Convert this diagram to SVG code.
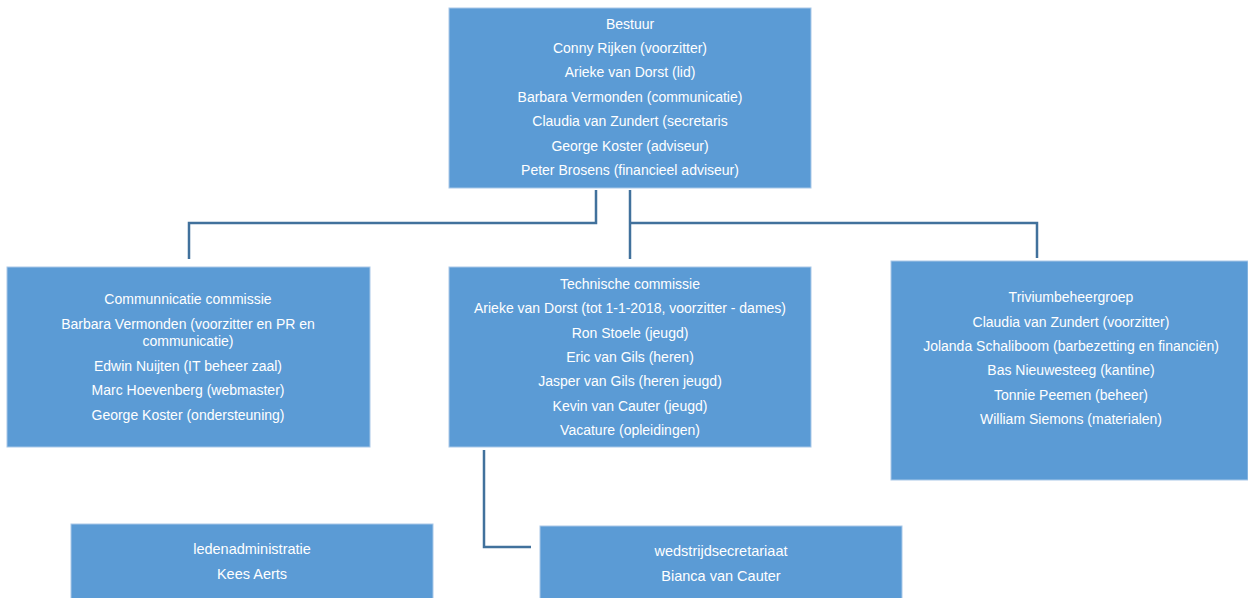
<svg xmlns="http://www.w3.org/2000/svg" width="1248" height="598" viewBox="0 0 1248 598">
<style>
.box{fill:#5b9bd5;stroke:#a9c8e8;stroke-width:1}
.t{font-family:"Liberation Sans",Arial,sans-serif;font-size:14px;fill:#ffffff;text-anchor:middle}
.n{font-size:14.5px}
.c{fill:none;stroke:#41719c;stroke-width:2.5}
</style>
<rect width="1248" height="598" fill="#ffffff"/>
<g id="connectors">
<path class="c" d="M596,190 V223 H189 V259"/>
<path class="c" d="M630,190 V259"/>
<path class="c" d="M630,223 H1037 V258"/>
<path class="c" d="M484,450 V547 H531"/>
</g>
<g id="bestuur">
<rect class="box" x="449" y="8" width="362" height="180"/>
<text class="t" x="630" y="29">Bestuur</text>
<text class="t" x="630" y="53">Conny Rijken (voorzitter)</text>
<text class="t" x="630" y="77">Arieke van Dorst (lid)</text>
<text class="t" x="630" y="102">Barbara Vermonden (communicatie)</text>
<text class="t" x="630" y="126">Claudia van Zundert (secretaris</text>
<text class="t" x="630" y="151">George Koster (adviseur)</text>
<text class="t" x="630" y="175">Peter Brosens (financieel adviseur)</text>
</g>
<g id="communicatie">
<rect class="box" x="7" y="267" width="363" height="180"/>
<text class="t" x="188" y="304">Communnicatie commissie</text>
<text class="t" x="188" y="329">Barbara Vermonden (voorzitter en PR en</text>
<text class="t" x="188" y="346">communicatie)</text>
<text class="t" x="188" y="371">Edwin Nuijten (IT beheer zaal)</text>
<text class="t" x="188" y="395">Marc Hoevenberg (webmaster)</text>
<text class="t" x="188" y="420">George Koster (ondersteuning)</text>
</g>
<g id="technische">
<rect class="box" x="449" y="267" width="362" height="180"/>
<text class="t" x="630" y="289">Technische commissie</text>
<text class="t" x="630" y="313">Arieke van Dorst (tot 1-1-2018, voorzitter - dames)</text>
<text class="t" x="630" y="338">Ron Stoele (jeugd)</text>
<text class="t" x="630" y="362">Eric van Gils (heren)</text>
<text class="t" x="630" y="386">Jasper van Gils (heren jeugd)</text>
<text class="t" x="630" y="411">Kevin van Cauter (jeugd)</text>
<text class="t" x="630" y="435">Vacature (opleidingen)</text>
</g>
<g id="trivium">
<rect class="box" x="891" y="261" width="357" height="219"/>
<text class="t" x="1071" y="302">Triviumbeheergroep</text>
<text class="t" x="1071" y="327">Claudia van Zundert (voorzitter)</text>
<text class="t" x="1071" y="351">Jolanda Schaliboom (barbezetting en financiën)</text>
<text class="t" x="1071" y="375">Bas Nieuwesteeg (kantine)</text>
<text class="t" x="1071" y="400">Tonnie Peemen (beheer)</text>
<text class="t" x="1071" y="424">William Siemons (materialen)</text>
</g>
<g id="ledenadministratie">
<rect class="box" x="71" y="524" width="362" height="80"/>
<text class="t n" x="252" y="554">ledenadministratie</text>
<text class="t n" x="252" y="579">Kees Aerts</text>
</g>
<g id="wedstrijdsecretariaat">
<rect class="box" x="540" y="526" width="362" height="80"/>
<text class="t n" x="721" y="556">wedstrijdsecretariaat</text>
<text class="t n" x="721" y="581">Bianca van Cauter</text>
</g>
</svg>
